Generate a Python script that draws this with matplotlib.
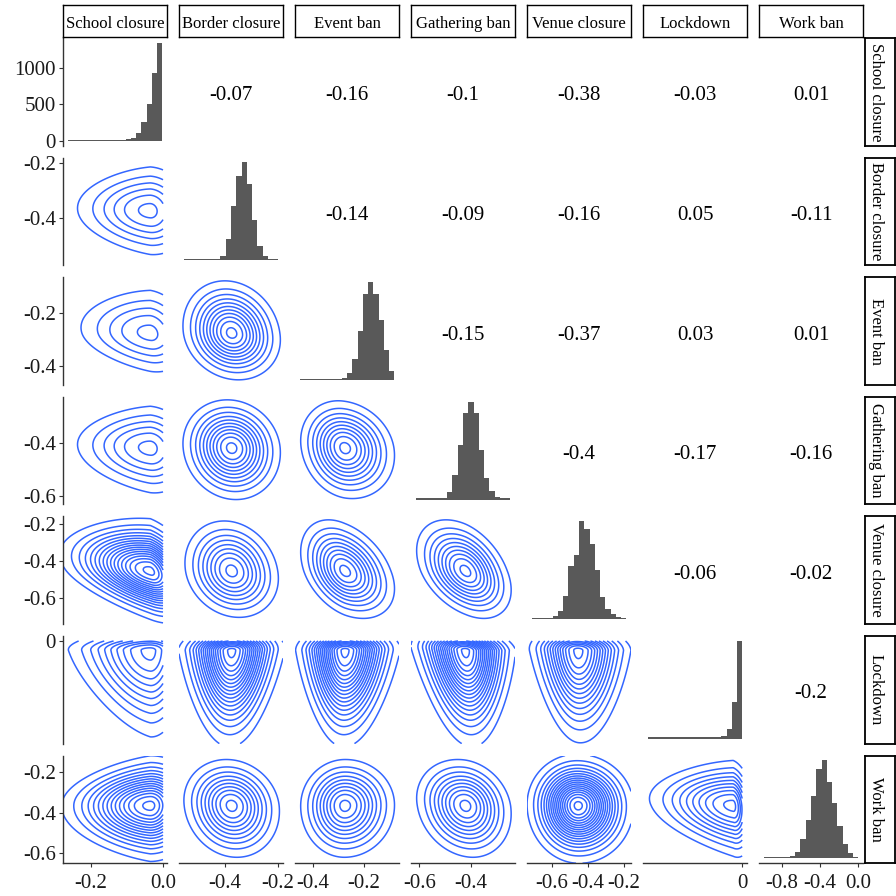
import matplotlib.pyplot as plt
import numpy as np

plt.rcParams['font.family'] = ['Liberation Serif', 'DejaVu Serif']

names = ["School closure", "Border closure", "Event ban", "Gathering ban",
         "Venue closure", "Lockdown", "Work ban"]

# correlations in the upper triangle, row by row
corr_upper = [
    [-0.07, -0.16, -0.1, -0.38, -0.03, 0.01],
    [-0.14, -0.09, -0.16, 0.05, -0.11],
    [-0.15, -0.37, 0.03, 0.01],
    [-0.4, -0.17, -0.16],
    [-0.06, -0.02],
    [-0.2],
]

# diagonal histograms, 18 bins between hist_lo and hist_hi
hist_lo = [-0.26, -0.835, -0.815, -0.84, -0.8825, -0.9, -0.99]
hist_hi = [0.0, -0.115, -0.095, -0.12, -0.0725, 0.0, 0.0]
school_counts = [12, 12, 12, 12, 12, 12, 12, 13, 13, 14, 16, 18, 36, 100, 250, 509, 932, 1341]
border_counts = [4, 4, 4, 4, 4, 4, 5, 13, 63, 165, 255, 296, 230, 122, 43, 13, 4, 4]
event_counts = [4, 4, 4, 4, 4, 4, 4, 4, 7, 20, 64, 147, 259, 295, 259, 182, 90, 27]
gathering_counts = [4, 4, 4, 4, 4, 5, 23, 73, 163, 260, 295, 260, 148, 66, 26, 8, 4, 4]
venue_counts = [4, 4, 4, 4, 10, 24, 69, 160, 194, 297, 274, 227, 150, 67, 32, 15, 5, 4]
lockdown_counts = [4, 4, 4, 4, 4, 4, 4, 4, 4, 4, 4, 4, 4, 4, 7, 29, 110, 295]
work_counts = [4, 4, 4, 4, 4, 8, 18, 60, 118, 191, 275, 301, 235, 171, 98, 43, 16, 5]
counts = [school_counts, border_counts, event_counts, gathering_counts,
          venue_counts, lockdown_counts, work_counts]

# density model for the lower panels: mode and spread each side
mode = [-0.035, -0.375, -0.275, -0.42, -0.455, -0.045, -0.365]
sd_left = [0.105, 0.084, 0.080, 0.088, 0.118, 0.193, 0.118]
sd_right = [0.06, 0.084, 0.090, 0.082, 0.128, 0.05, 0.105]
upper_cap = [0.0, None, None, None, None, 0.0, None]
taper = [0.12, 0, 0, 0, 0, 0.15, 0]
n_lines = [[6], [5, 11], [6, 11, 10], [17, 9, 10, 10],
           [10, 18, 18, 18, 14], [15, 10, 10, 10, 18, 10]]

# axis ranges of the density panels
lim_lo = [-0.2766, -0.575, -0.470, -0.632, -0.740, -0.494, -0.649]
lim_hi = [0.011, -0.18, -0.063, -0.228, -0.160, 0.024, -0.119]

row_ticks = [[0, 500, 1000], [-0.4, -0.2], [-0.4, -0.2], [-0.6, -0.4],
             [-0.6, -0.4, -0.2], [0], [-0.6, -0.4, -0.2]]
col_ticks = [[-0.2, 0.0], [-0.4, -0.2], [-0.4, -0.2], [-0.6, -0.4],
             [-0.6, -0.4, -0.2], [0], [-0.8, -0.4, 0.0]]

n = len(names)
corr = np.zeros((n, n))
for i in range(n - 1):
    for k, v in enumerate(corr_upper[i]):
        corr[i, i + 1 + k] = v
        corr[i + 1 + k, i] = v

fig = plt.figure(figsize=(8.96, 8.96), dpi=100)


def px_axes(x, y, w, h):
    return fig.add_axes([x / 896, 1 - (y + h) / 896, w / 896, h / 896])


def fmt(ticks):
    if all(float(t).is_integer() for t in ticks):
        return [str(int(t)) for t in ticks]
    return [f"{t:.1f}" for t in ticks]


def zscore(v, x):
    return np.where(x < mode[v], (x - mode[v]) / sd_left[v], (x - mode[v]) / sd_right[v])


W, H = 104, 107.6
col_x = [63 + 116 * j for j in range(n)]
row_y = [38 + 119.6 * i for i in range(n)]
blue = '#3366FF'
axcol = '#333333'

for i in range(n):
    for j in range(n):
        ax = px_axes(col_x[j], row_y[i], W, H)
        for s in ax.spines.values():
            s.set_visible(False)
        ax.set_xticks([])
        ax.set_yticks([])

        if i == j:
            edges = np.linspace(hist_lo[i], hist_hi[i], len(counts[i]) + 1)
            ax.bar(edges[:-1], counts[i], width=np.diff(edges), align='edge',
                   color='#595959', linewidth=0)
            span = hist_hi[i] - hist_lo[i]
            ax.set_xlim(hist_lo[i] - 0.05 * span, hist_hi[i] + 0.05 * span)
            top = max(counts[i])
            ax.set_ylim(-0.05 * top, 1.05 * top)
        elif i < j:
            ax.text(0.5, 0.42, f"{corr[i, j]:g}", ha='center', va='baseline',
                    fontsize=15, color='black', transform=ax.transAxes)
        else:
            xhi = lim_hi[j] if upper_cap[j] is None else min(lim_hi[j], upper_cap[j])
            yhi = lim_hi[i] if upper_cap[i] is None else min(lim_hi[i], upper_cap[i])
            gx = np.linspace(lim_lo[j], xhi, 300)
            gy = np.linspace(lim_lo[i], yhi, 300)
            X, Y = np.meshgrid(gx, gy)
            zx0 = zscore(j, X)
            zy0 = zscore(i, Y)
            zx = zx0 * (1 + taper[i] * np.clip(-zy0, 0, None))
            zy = zy0 * (1 + taper[j] * np.clip(-zx0, 0, None))
            rho = corr[i, j]
            q = (zx ** 2 - 2 * rho * zx * zy + zy ** 2) / (1 - rho ** 2)
            dens = np.exp(-q / 2)
            nl = n_lines[i - 1][j]
            levels = np.arange(1, nl + 1) / (nl + 0.3)
            ax.contour(X, Y, dens, levels=levels, colors=blue, linewidths=1.1)
            ax.set_xlim(lim_lo[j], lim_hi[j])
            ax.set_ylim(lim_lo[i], lim_hi[i])

        if j == 0:
            ax.spines['left'].set_visible(True)
            ax.spines['left'].set_color(axcol)
            ax.spines['left'].set_linewidth(1.0)
            ax.set_yticks(row_ticks[i])
            ax.set_yticklabels(fmt(row_ticks[i]))
            ax.tick_params(axis='y', length=3, width=0.8, color=axcol,
                           labelsize=15, labelcolor='#1a1a1a', pad=2)
        if i == n - 1:
            ax.spines['bottom'].set_visible(True)
            ax.spines['bottom'].set_color(axcol)
            ax.spines['bottom'].set_linewidth(1.0)
            ax.set_xticks(col_ticks[j])
            ax.set_xticklabels(fmt(col_ticks[j]))
            ax.tick_params(axis='x', length=3, width=0.8, color=axcol,
                           labelsize=15, labelcolor='#1a1a1a', pad=5)

# strips on top and on the right
for j in range(n):
    sa = px_axes(col_x[j], 5, W, 32)
    sa.set_xticks([])
    sa.set_yticks([])
    for s in sa.spines.values():
        s.set_linewidth(1.0)
    sa.text(0.5, 0.27, names[j], ha='center', va='baseline', fontsize=12,
            transform=sa.transAxes)

for i in range(n):
    sa = px_axes(865, row_y[i], 30, H)
    sa.set_xticks([])
    sa.set_yticks([])
    for s in sa.spines.values():
        s.set_linewidth(1.3)
    sa.text(0.23, 0.5, names[i], ha='center', va='baseline', fontsize=12,
            rotation=-90, rotation_mode='anchor', transform=sa.transAxes)

fig.savefig('out.png', dpi=100)
